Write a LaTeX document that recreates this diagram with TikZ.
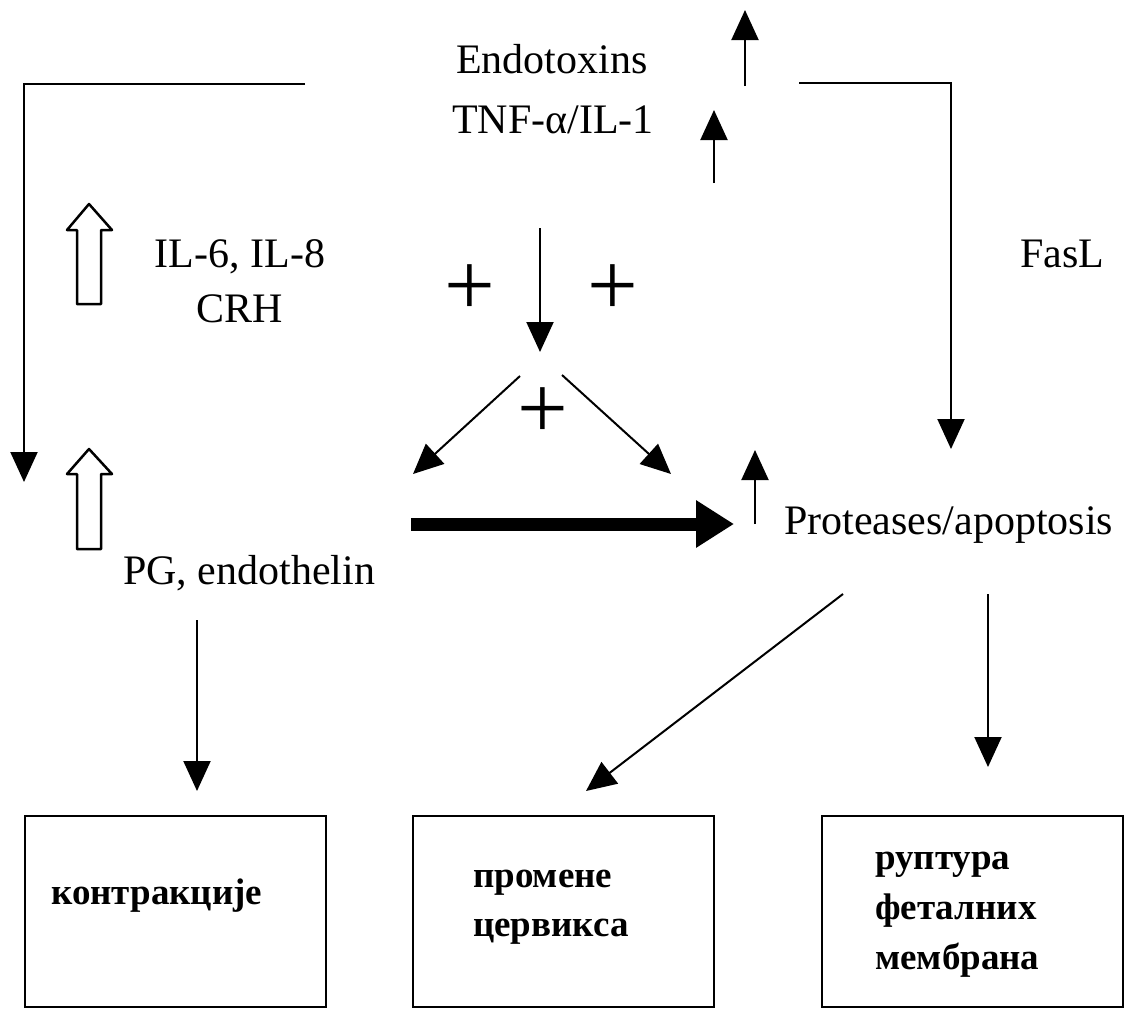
\documentclass[tikz,border=0pt]{standalone}
\usepackage{fontspec}
\setmainfont{Liberation Serif}
\usetikzlibrary{arrows.meta}
\begin{document}
\begin{tikzpicture}[x=1pt,y=-1pt,
  ln/.style={line width=2pt},
  arr/.style={ln,-{Triangle[width=27pt,length=30pt]}},
  thickarr/.style={line width=13pt,-{Triangle[width=45pt,length=38pt]}},
  lbl/.style={font=\fontsize{42}{50}\selectfont, inner sep=0pt},
  btxt/.style={font=\fontsize{37}{49}\selectfont\bfseries, inner sep=0pt},
  boxn/.style={draw, line width=2.5pt, minimum width=301pt, minimum height=191pt, inner sep=0pt},
  plussign/.style={font=\fontsize{90}{90}\selectfont, inner sep=0pt},
  hollow/.style={line width=2.5pt, line join=round}
]
\useasboundingbox (0,0) rectangle (1128,1010);

% text labels
\node[lbl, anchor=base] (endo) at (552,73) {Endotoxins};
\node[lbl, anchor=base] (tnf) at (553,133) {TNF-α/IL-1};
\node[lbl, anchor=base] (il) at (240,267) {IL-6, IL-8};
\node[lbl, anchor=base] (crh) at (240,322) {CRH};
\node[lbl, anchor=base] (fasl) at (1062,267) {FasL};
\node[lbl, anchor=base west] (pg) at (123,584) {PG, endothelin};
\node[lbl, anchor=base west] (prot) at (784,534) {Proteases/apoptosis};

% plus signs
\node[plussign] (p1) at (470,290) {+};
\node[plussign] (p2) at (613,290) {+};
\node[plussign] (p3) at (543,413) {+};

% boxes
\node[boxn] (b1) at (175.5,911.5) {};
\node[boxn] (b2) at (563.5,911.5) {};
\node[boxn] (b3) at (972.5,911.5) {};
\node[btxt, anchor=base west] (t1) at (51,904) {контракције};
\node[btxt, anchor=base west] (t2a) at (473,887) {промене};
\node[btxt, anchor=base west] (t2b) at (473,936) {цервикса};
\node[btxt, anchor=base west] (t3a) at (875,869) {руптура};
\node[btxt, anchor=base west] (t3b) at (875,919) {феталних};
\node[btxt, anchor=base west] (t3c) at (875,969) {мембрана};

% coordinates for connector ends
\coordinate (lbA) at (305,84);
\coordinate (lbB) at (24,84);
\coordinate (lbC) at (24,482);
\coordinate (rbA) at (799,83);
\coordinate (rbB) at (951,83);
\coordinate (rbC) at (951,449);
\coordinate (u1a) at (745,86);
\coordinate (u1b) at (745,10);
\coordinate (u2a) at (714,183);
\coordinate (u2b) at (714,110);
\coordinate (dA) at (540,228);
\coordinate (dB) at (540,352);
\coordinate (dlA) at (520,376);
\coordinate (dlB) at (413,474);
\coordinate (drA) at (562,375);
\coordinate (drB) at (671,474);
\coordinate (thA) at (411,524);
\coordinate (thB) at (734,524);
\coordinate (u3a) at (755,524);
\coordinate (u3b) at (755,450);
\coordinate (pgA) at (197,620);
\coordinate (pgB) at (197,791);
\coordinate (prA) at (843,594);
\coordinate (prB) at (586,791);
\coordinate (rdA) at (988,594);
\coordinate (rdB) at (988,767);

% connectors
\draw[arr] (lbA) -- (lbB) -- (lbC);
\draw[arr] (rbA) -- (rbB) -- (rbC);
\draw[arr] (u1a) -- (u1b);
\draw[arr] (u2a) -- (u2b);
\draw[arr] (dA) -- (dB);
\draw[arr] (dlA) -- (dlB);
\draw[arr] (drA) -- (drB);
\draw[thickarr] (thA) -- (thB);
\draw[arr] (u3a) -- (u3b);
\draw[arr] (pgA) -- (pgB);
\draw[arr] (prA) -- (prB);
\draw[arr] (rdA) -- (rdB);

% hollow up arrows
\draw[hollow] (77,304) -- (77,230) -- (67,230) -- (89,204) -- (112,230) -- (101,230) -- (101,304) -- cycle;
\draw[hollow] (77,549) -- (77,474) -- (67,474) -- (89,449) -- (112,474) -- (101,474) -- (101,549) -- cycle;
\end{tikzpicture}
\end{document}
